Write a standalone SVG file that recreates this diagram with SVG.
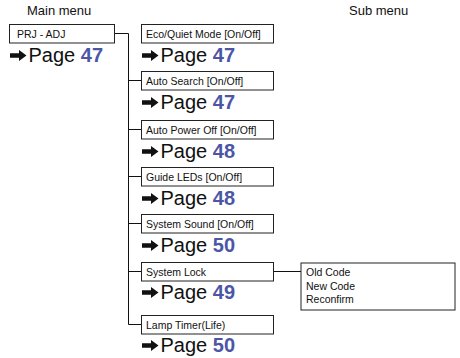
<svg xmlns="http://www.w3.org/2000/svg" width="460" height="358" viewBox="0 0 460 358">
<style>
text{font-family:"Liberation Sans",Arial,sans-serif;fill:#111}
.hdr{font-size:13px}
.box{fill:#fff;stroke:#222;stroke-width:1}
.lbl{font-size:10.5px}
.pg{font-size:20px}
.num{fill:#4b56a6;font-weight:bold}
.con{fill:none;stroke:#111;stroke-width:1}
</style>
<defs>
<path id="arr" d="M0,-2.2 H9 V-5.4 L16.5,0 L9,5.4 V2.2 H0 Z" fill="#111"/>
</defs>
<rect width="460" height="358" fill="#fff"/>
<text class="hdr" x="27" y="15">Main menu</text>
<text class="hdr" x="349" y="15">Sub menu</text>
<g id="connectors">
<path class="con" d="M115,33.5 H128.5 M128.5,33.5 V324.5 H141"/>
<path class="con" d="M128.5,80.5 H141 M128.5,129.5 H141 M128.5,176.5 H141 M128.5,223.5 H141 M128.5,271.5 H141"/>
<path class="con" d="M274,271.5 H301"/>
</g>
<g id="prj-adj">
<rect class="box" x="9.5" y="24.5" width="105" height="18.5"/>
<text class="lbl" x="17" y="37.5">PRJ - ADJ</text>
<use href="#arr" x="10" y="55.5"/>
<text class="pg" x="28.5" y="62">Page <tspan class="num">47</tspan></text>
</g>
<g id="eco">
<rect class="box" x="141.5" y="24.5" width="132" height="18.5"/>
<text class="lbl" x="146" y="37.5">Eco/Quiet Mode [On/Off]</text>
<use href="#arr" x="142" y="55.5"/>
<text class="pg" x="160.5" y="62">Page <tspan class="num">47</tspan></text>
</g>
<g id="auto-search">
<rect class="box" x="141.5" y="71.5" width="132" height="18.5"/>
<text class="lbl" x="146" y="84.5">Auto Search [On/Off]</text>
<use href="#arr" x="142" y="102.5"/>
<text class="pg" x="160.5" y="109">Page <tspan class="num">47</tspan></text>
</g>
<g id="auto-power-off">
<rect class="box" x="141.5" y="120.5" width="132" height="18.5"/>
<text class="lbl" x="146" y="133.5">Auto Power Off [On/Off]</text>
<use href="#arr" x="142" y="151.5"/>
<text class="pg" x="160.5" y="158">Page <tspan class="num">48</tspan></text>
</g>
<g id="guide-leds">
<rect class="box" x="141.5" y="167.5" width="132" height="18.5"/>
<text class="lbl" x="146" y="180.5">Guide LEDs [On/Off]</text>
<use href="#arr" x="142" y="198.5"/>
<text class="pg" x="160.5" y="205">Page <tspan class="num">48</tspan></text>
</g>
<g id="system-sound">
<rect class="box" x="141.5" y="214.5" width="132" height="18.5"/>
<text class="lbl" x="146" y="227.5">System Sound [On/Off]</text>
<use href="#arr" x="142" y="245.5"/>
<text class="pg" x="160.5" y="252">Page <tspan class="num">50</tspan></text>
</g>
<g id="system-lock">
<rect class="box" x="141.5" y="262.5" width="132" height="18.5"/>
<text class="lbl" x="146" y="275.5">System Lock</text>
<use href="#arr" x="142" y="292.5"/>
<text class="pg" x="160.5" y="299">Page <tspan class="num">49</tspan></text>
</g>
<g id="lamp-timer">
<rect class="box" x="141.5" y="315.5" width="132" height="18.5"/>
<text class="lbl" x="146" y="328.5">Lamp Timer(Life)</text>
<use href="#arr" x="142" y="345.5"/>
<text class="pg" x="160.5" y="352">Page <tspan class="num">50</tspan></text>
</g>
<g id="lock-sub">
<rect class="box" x="301" y="263" width="154" height="47"/>
<text class="lbl" x="306" y="276">Old Code</text>
<text class="lbl" x="306" y="289.5">New Code</text>
<text class="lbl" x="306" y="303">Reconfirm</text>
</g>
</svg>
